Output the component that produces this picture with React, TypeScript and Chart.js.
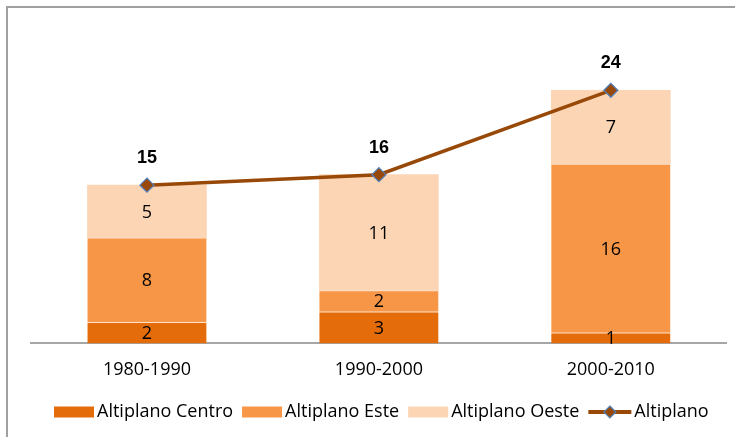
import React, { useEffect, useRef } from "react";
import { Chart, registerables } from "chart.js";

Chart.register(...registerables);

const categories = ["1980-1990", "1990-2000", "2000-2010"];
const centro = [2, 3, 1];
const este = [8, 2, 16];
const oeste = [5, 11, 7];
const altiplano = [15, 16, 24];
const seriesNames = ["Altiplano Centro", "Altiplano Este", "Altiplano Oeste", "Altiplano"];

const FONT = "'Open Sans', sans-serif";

const labelPlugin = {
  id: "labels",
  afterDatasetsDraw(chart: any) {
    const ctx = chart.ctx;
    ctx.save();
    chart.data.datasets.forEach((ds: any, i: number) => {
      const meta = chart.getDatasetMeta(i);
      meta.data.forEach((el: any, j: number) => {
        const v = ds.data[j];
        ctx.fillStyle = "#000";
        ctx.textAlign = "center";
        ctx.textBaseline = "middle";
        if (ds.type === "line") {
          ctx.font = `bold 18px Arial, 'Liberation Sans', sans-serif`;
          ctx.fillText(String(v), el.x, el.y - 27);
        } else {
          ctx.font = `18px ${FONT}`;
          ctx.fillText(String(v), el.x, (el.y + el.base) / 2 + 1);
        }
      });
    });
    ctx.restore();
  },
};

const legendPlugin = {
  id: "customLegend",
  afterDraw(chart: any) {
    const ctx = chart.ctx;
    ctx.save();
    ctx.font = `18px ${FONT}`;
    ctx.textBaseline = "middle";
    ctx.textAlign = "left";
    const y = 412;
    let x = 54;
    chart.data.datasets.forEach((ds: any) => {
      if (ds.type === "line") {
        ctx.strokeStyle = ds.borderColor;
        ctx.lineWidth = 4;
        ctx.beginPath();
        ctx.moveTo(x, y);
        ctx.lineTo(x + 43, y);
        ctx.stroke();
        const cx = x + 21.5;
        const r = 6;
        ctx.beginPath();
        ctx.moveTo(cx, y - r);
        ctx.lineTo(cx + r, y);
        ctx.lineTo(cx, y + r);
        ctx.lineTo(cx - r, y);
        ctx.closePath();
        ctx.fillStyle = ds.pointBackgroundColor;
        ctx.fill();
        ctx.strokeStyle = ds.pointBorderColor;
        ctx.lineWidth = 1.2;
        ctx.stroke();
        x += 46;
      } else {
        ctx.fillStyle = ds.backgroundColor;
        ctx.fillRect(x, y - 5.5, 40, 11);
        x += 43;
      }
      ctx.fillStyle = "#000";
      ctx.fillText(ds.label, x, y);
      x += ctx.measureText(ds.label).width + 9;
    });
    ctx.restore();
  },
};

export default function App() {
  const ref = useRef<HTMLCanvasElement | null>(null);
  useEffect(() => {
    if (!ref.current) return;
    const chart = new Chart(ref.current, {
      type: "bar",
      data: {
        labels: categories,
        datasets: [
          {
            type: "bar",
            label: seriesNames[0],
            data: centro,
            backgroundColor: "#E46C0A",
            borderColor: "#FBE3CF",
            borderWidth: { top: 1, bottom: 0, left: 0, right: 0 },
            stack: "s",
            order: 2,
          },
          {
            type: "bar",
            label: seriesNames[1],
            data: este,
            backgroundColor: "#F79646",
            borderColor: "#FBE3CF",
            borderWidth: { top: 1, bottom: 0, left: 0, right: 0 },
            stack: "s",
            order: 2,
          },
          {
            type: "bar",
            label: seriesNames[2],
            data: oeste,
            backgroundColor: "#FCD5B5",
            borderWidth: 0,
            stack: "s",
            order: 2,
          },
          {
            type: "line",
            label: seriesNames[3],
            data: altiplano,
            borderColor: "#984807",
            borderWidth: 3.5,
            pointStyle: "rectRot",
            pointRadius: 7,
            pointBackgroundColor: "#984807",
            pointBorderColor: "#4F81BD",
            pointBorderWidth: 1.2,
            stack: "line",
            order: 0,
          } as any,
        ],
      },
      options: {
        animation: false,
        responsive: false,
        maintainAspectRatio: false,
        layout: { padding: { left: 31, right: 8, top: 27, bottom: 40 } },
        plugins: {
          legend: { display: false },
          tooltip: { enabled: false },
        },
        datasets: { bar: { barThickness: 119 } },
        scales: {
          x: {
            stacked: true,
            grid: { display: false, drawTicks: false },
            border: { display: true, color: "#A6A6A6", width: 2 },
            ticks: { color: "#000", font: { size: 18, family: FONT }, padding: 16 },
          },
          y: {
            stacked: true,
            display: false,
            min: 0,
            max: 30,
          },
        },
      } as any,
      plugins: [labelPlugin, legendPlugin],
    });
    return () => chart.destroy();
  }, []);
  return (
    <div style={{ position: "absolute", left: 0, top: 0, width: 735, height: 437, background: "#fff", overflow: "hidden" }}>
      <div
        style={{
          position: "absolute",
          left: 6,
          top: 6,
          width: 740,
          height: 440,
          border: "2px solid #A0A0A0",
          boxSizing: "border-box",
        }}
      />
      <canvas ref={ref} width={735} height={437} style={{ position: "absolute", left: 0, top: 0 }} />
    </div>
  );
}
